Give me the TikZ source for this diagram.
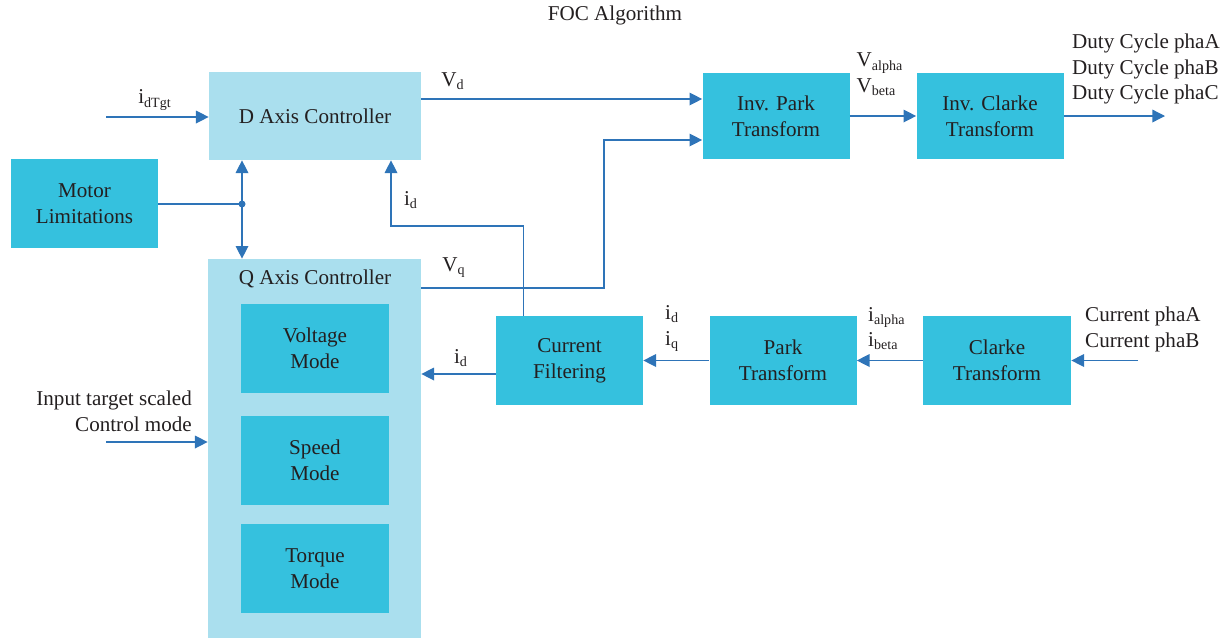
\documentclass[tikz,border=0pt]{standalone}
\usepackage{fontspec}
\setmainfont{Liberation Serif}
\usetikzlibrary{positioning,calc,arrows.meta}
\definecolor{boxlight}{HTML}{AADFEE}
\definecolor{boxdark}{HTML}{35C1DE}
\definecolor{wireblue}{HTML}{2E74B8}
\definecolor{inktext}{HTML}{231F20}

\begin{document}
\begin{tikzpicture}[
    font=\fontsize{12}{14.6}\selectfont, text=inktext,
    outer/.style={fill=boxlight, inner sep=0pt, align=center},
    block/.style={fill=boxdark, minimum width=2.94cm, minimum height=1.78cm, inner sep=0pt, align=center},
    wire/.style={draw=wireblue, line width=0.75pt},
    arr/.style={wire, -{Triangle[length=7.2pt,width=7.2pt]}}
]
    \useasboundingbox (0,0) rectangle (24.56,-12.84);

    % Title
    \node (title) at (12.30,-0.30) {FOC Algorithm};

    % D and Q axis controllers
    \node [outer, minimum width=4.24cm, minimum height=1.76cm] (dctrl) at (6.30,-2.32) {D Axis Controller};
    \node [outer, minimum width=4.26cm, minimum height=7.58cm] (qctrl) at (6.29,-8.97) {};
    \node (qtitle) at (6.30,-5.58) {Q Axis Controller};
    \node [block, minimum width=2.96cm] (voltage) at (6.30,-6.97) {Voltage\\Mode};
    \node [block, minimum width=2.96cm] (speed) at (6.30,-9.21) {Speed\\Mode};
    \node [block, minimum width=2.96cm] (torque) at (6.30,-11.37) {Torque\\Mode};

    % Limits
    \node [block] (motor) at (1.69,-4.07) {Motor\\Limitations};

    % Transforms
    \node [block, minimum height=1.72cm] (invpark) at (15.52,-2.32) {Inv. Park\\Transform};
    \node [block, minimum height=1.72cm] (invclarke) at (19.80,-2.32) {Inv. Clarke\\Transform};
    \node [block] (filter) at (11.39,-7.21) {Current\\Filtering};
    \node [block] (park) at (15.66,-7.21) {Park\\Transform};
    \node [block, minimum width=2.96cm] (clarke) at (19.94,-7.21) {Clarke\\Transform};

    % Inputs
    \coordinate (idin) at (2.12,-2.34);
    \draw [arr] (idin) -- (idin -| dctrl.west);
    \node (idtgt) at (3.10,-2.00) {i\textsubscript{dTgt}};

    \coordinate (modein) at (2.12,-8.84);
    \draw [arr] (modein) -- (modein -| qctrl.west);
    \node [anchor=east, align=right] (ctrlmode) at (3.96,-8.23) {Input target scaled\\Control mode};

    % Motor limitations to both controllers
    \coordinate (mjoin) at (4.84,-4.08);
    \draw [wire] (motor.east |- mjoin) -- (mjoin);
    \draw [arr] (mjoin) -- (mjoin |- dctrl.south);
    \draw [arr] (mjoin) -- (mjoin |- qctrl.north);
    \fill [wireblue] (mjoin) circle (0.07);

    % Voltages to the inverse park
    \draw [arr] (dctrl.east |- 0,-1.98) -- (invpark.west |- 0,-1.98);
    \node (vd) at (9.06,-1.62) {V\textsubscript{d}};
    \coordinate (vqbend) at (12.08,-2.80);
    \draw [arr] (qctrl.east |- 0,-5.76) -| (vqbend) -- (invpark.west |- vqbend);
    \node (vq) at (9.08,-5.36) {V\textsubscript{q}};

    \draw [arr] (invpark) -- (invclarke);
    \node [align=left] (valbe) at (17.60,-1.49) {V\textsubscript{alpha}\\V\textsubscript{beta}};

    \coordinate (dutyout) at (23.30,-2.32);
    \draw [arr] (invclarke.east) -- (dutyout);
    \node [anchor=west, align=left] (duty) at (21.32,-1.38) {Duty Cycle phaA\\Duty Cycle phaB\\Duty Cycle phaC};

    % Current measurement chain
    \coordinate (curin) at (22.76,-7.21);
    \draw [arr] (curin) -- (clarke.east);
    \node [anchor=west, align=left] (phases) at (21.58,-6.59) {Current phaA\\Current phaB};

    \draw [arr] (clarke) -- (park);
    \node [anchor=west, align=left] (ialbe) at (17.24,-6.57) {i\textsubscript{alpha}\\i\textsubscript{beta}};

    \draw [arr] (park) -- (filter);
    \node [anchor=west, align=left] (idq) at (13.18,-6.57) {i\textsubscript{d}\\i\textsubscript{q}};

    \draw [arr] (filter.west |- 0,-7.48) -- (qctrl.east |- 0,-7.48);
    \node (idq2) at (9.22,-7.16) {i\textsubscript{d}};

    % Feedback of i_d to the D controller
    \coordinate (idtap) at ($(filter.north west)!0.19!(filter.north east)$);
    \coordinate (idturn) at (7.82,-4.52);
    \draw [arr] (idtap) |- (idturn) -- (idturn |- dctrl.south);
    \node (idfb) at (8.22,-4.00) {i\textsubscript{d}};
\end{tikzpicture}
\end{document}
